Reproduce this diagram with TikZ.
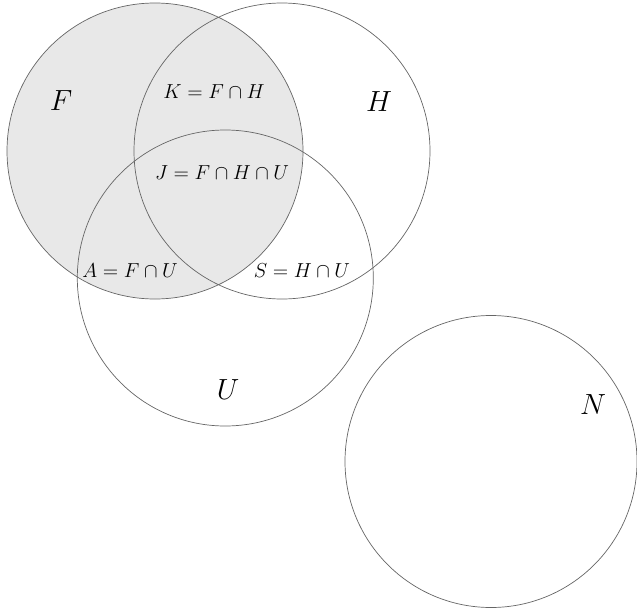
\documentclass[tikz,border=0pt]{standalone}
\tikzset{
  setcircle/.style={draw=black!60, line width=0.5pt},
  setlabel/.style={font=\fontsize{21}{21}\selectfont, inner sep=0pt},
  partlabel/.style={font=\fontsize{15.7}{15.7}\selectfont, inner sep=0pt}
}
\begin{document}
\begin{tikzpicture}[x=0.025cm, y=-0.025cm]
  \useasboundingbox (0,0) rectangle (637,611);
  % las cuatro regiones
  \fill[black!9] (155,151) circle (148);
  \draw[setcircle] (155,151) circle (148);
  \draw[setcircle] (282,151) circle (148);
  \draw[setcircle] (225.3,278) circle (148);
  \draw[setcircle] (491,461.5) circle (146);
  % los nombres
  \node[setlabel] (f) at (61,101) {$F$};
  \node[setlabel] (h) at (379,102) {$H$};
  \node[setlabel] (u) at (228,390) {$U$};
  \node[setlabel] (n) at (593,405) {$N$};
  % las intersecciones
  \node[partlabel] (k) at (214,92) {$K = F \cap H$};
  \node[partlabel] (j) at (222,173) {$J = F \cap H \cap U$};
  \node[partlabel] (a) at (130,271) {$A = F \cap U$};
  \node[partlabel] (s) at (302,271) {$S = H \cap U$};
\end{tikzpicture}
\end{document}
